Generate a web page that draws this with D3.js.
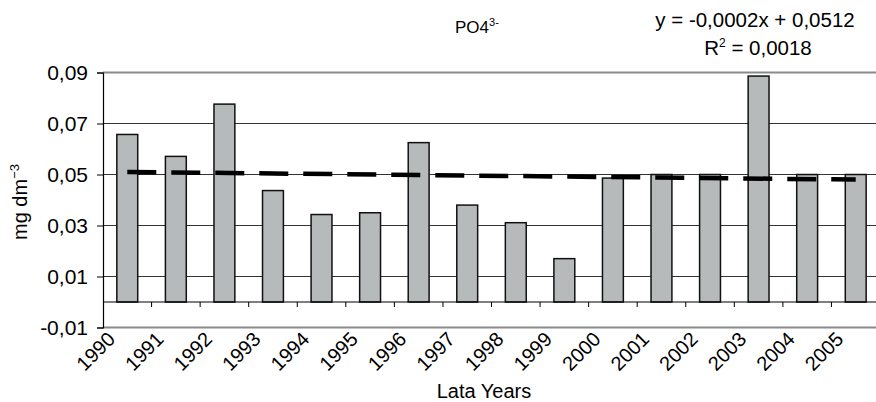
<!DOCTYPE html>
<html>
<head>
<meta charset="utf-8">
<script src="https://cdn.jsdelivr.net/npm/d3@7"></script>
<style>
  body { margin: 0; background: #fff; }
  svg { display: block; font-family: "Liberation Sans", Arial, sans-serif; }
</style>
</head>
<body>
<div id="chart"></div>
<script>
// Data
const years = ['1990', '1991', '1992', '1993', '1994', '1995', '1996', '1997',
    '1998', '1999', '2000', '2001', '2002', '2003', '2004', '2005'];
const values = [0.0657, 0.0571, 0.0776, 0.0437, 0.0343, 0.0350, 0.0625, 0.0380,
    0.0311, 0.0170, 0.0486, 0.0500, 0.0500, 0.0886, 0.0500, 0.0500];
const trendYears = ['1990', '2005'];
const trendValues = [0.0510, 0.0480];
const yTicks = [-0.01, 0.01, 0.03, 0.05, 0.07, 0.09];

const width = 876;
const height = 402;
const margin = { top: 72.5, right: -4, bottom: 75, left: 103 };

const svg = d3.select('#chart')
    .append('svg')
    .attr('width', width)
    .attr('height', height);

const x = d3.scaleBand()
    .domain(years)
    .range([margin.left, width - margin.right]);

const y = d3.scaleLinear()
    .domain([-0.01, 0.09])
    .range([height - margin.bottom + 0.5, margin.top]);

// comma decimals, plain hyphen for negatives
const fmt = d => d3.format('.2f')(d).replace('.', ',').replace('\u2212', '-');

// Gridlines
svg.append('g')
    .selectAll('line')
    .data(yTicks)
    .enter()
    .append('line')
    .attr('x1', margin.left)
    .attr('x2', width)
    .attr('y1', d => y(d))
    .attr('y2', d => y(d))
    .attr('stroke', d => (d === -0.01 || d === 0.09) ? '#8a8a8a' : '#333')
    .attr('stroke-width', d => (d === -0.01 || d === 0.09) ? 2 : 1);

// Bars
const barW = x.bandwidth() * 0.43;
svg.append('g')
    .selectAll('rect')
    .data(years)
    .enter()
    .append('rect')
    .attr('x', d => x(d) + (x.bandwidth() - barW) / 2)
    .attr('width', barW)
    .attr('y', (d, i) => y(values[i]))
    .attr('height', (d, i) => y(0) - y(values[i]))
    .attr('fill', '#b6babb')
    .attr('stroke', '#111')
    .attr('stroke-width', 1.5);

// Category axis along zero
svg.append('line')
    .attr('x1', margin.left)
    .attr('x2', width)
    .attr('y1', y(0))
    .attr('y2', y(0))
    .attr('stroke', '#000')
    .attr('stroke-width', 1.2);

svg.append('g')
    .selectAll('line')
    .data(years.slice(1))
    .enter()
    .append('line')
    .attr('x1', d => x(d))
    .attr('x2', d => x(d))
    .attr('y1', y(0))
    .attr('y2', y(0) + 5)
    .attr('stroke', '#000');

// Trendline
const trendLine = d3.line()
    .x(d => x(d[0]) + x.bandwidth() / 2)
    .y(d => y(d[1]));

svg.append('path')
    .datum(trendYears.map((d, i) => [d, trendValues[i]]))
    .attr('d', trendLine)
    .attr('fill', 'none')
    .attr('stroke', '#000')
    .attr('stroke-width', 4.5)
    .attr('stroke-dasharray', '29,15');

// Y axis
const yAxis = d3.axisLeft(y)
    .tickValues(yTicks)
    .tickSize(6)
    .tickPadding(9)
    .tickFormat(fmt);

const yAxisG = svg.append('g')
    .attr('transform', `translate(${margin.left},0)`)
    .call(yAxis);
yAxisG.select('.domain').attr('stroke', '#000').attr('stroke-width', 1.2);
yAxisG.selectAll('text')
    .attr('font-size', 21)
    .attr('fill', '#000')
    .attr('font-family', '"Liberation Sans", Arial, sans-serif');

// X labels
svg.append('g')
    .selectAll('text')
    .data(years)
    .enter()
    .append('text')
    .attr('transform', d => `translate(${x(d) + x.bandwidth() / 2 - 11},${y(-0.01) + 13}) rotate(-45)`)
    .attr('text-anchor', 'end')
    .attr('font-size', 20)
    .text(d => d);

// Axis titles
svg.append('text')
    .attr('x', 484)
    .attr('y', 398)
    .attr('text-anchor', 'middle')
    .attr('font-size', 20)
    .text('Lata Years');

const yTitle = svg.append('text')
    .attr('transform', `translate(27,202) rotate(-90)`)
    .attr('text-anchor', 'middle')
    .attr('font-size', 20);
yTitle.append('tspan').text('mg dm');
yTitle.append('tspan').attr('font-size', 13).attr('dy', -8).text('−3');

// Chart title
const title = svg.append('text')
    .attr('x', 455)
    .attr('y', 33)
    .attr('font-size', 17);
title.append('tspan').text('PO4');
title.append('tspan').attr('font-size', 11).attr('dy', -7).text('3-');

// Trend equation
svg.append('text')
    .attr('x', 755)
    .attr('y', 27)
    .attr('text-anchor', 'middle')
    .attr('font-size', 20.5)
    .text('y = -0,0002x + 0,0512');

const r2 = svg.append('text')
    .attr('x', 758)
    .attr('y', 55)
    .attr('text-anchor', 'middle')
    .attr('font-size', 20.5);
r2.append('tspan').text('R');
r2.append('tspan').attr('font-size', 12).attr('dy', -8).text('2');
r2.append('tspan').attr('dy', 8).text(' = 0,0018');
</script>
</body>
</html>
